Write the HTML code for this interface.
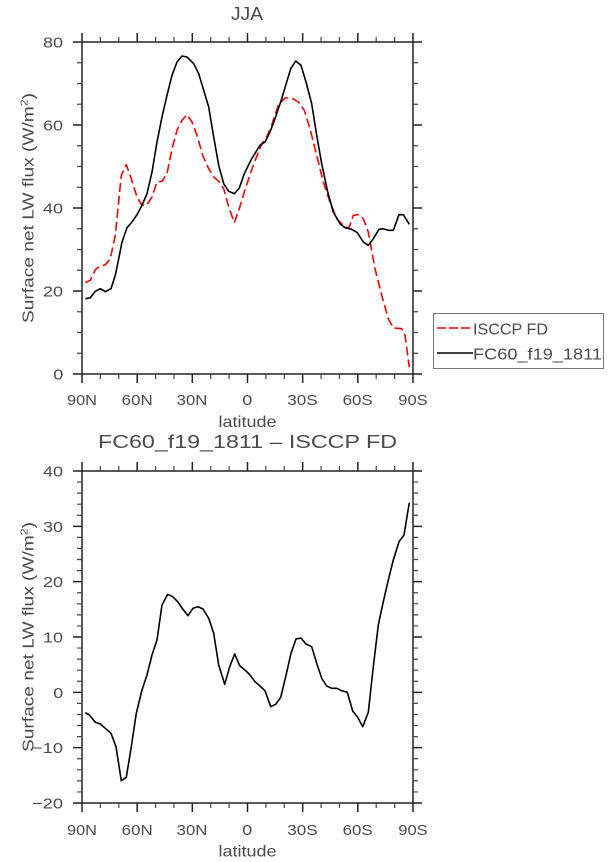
<!DOCTYPE html>
<html>
<head>
<meta charset="utf-8">
<style>
  html, body { margin: 0; padding: 0; background: #ffffff; }
  svg { display: block; }
  text { font-family: "Liberation Sans", "DejaVu Sans", sans-serif; fill: #4a4a4a; }
</style>
</head>
<body>
<svg width="609" height="862" viewBox="0 0 609 862" xmlns="http://www.w3.org/2000/svg">
  <rect x="0" y="0" width="609" height="862" fill="#ffffff"/>

  <!-- ================= TOP PLOT ================= -->
  <text x="231" y="20" font-size="18" textLength="32" lengthAdjust="spacingAndGlyphs">JJA</text>

  <!-- frame -->
  <rect x="82" y="42" width="331" height="332" fill="none" stroke="#222" stroke-width="1.5"/>

  <!-- ticks -->
  <path fill="none" stroke="#222" stroke-width="1.5" d="
    M82 42 v-9 M137.17 42 v-9 M192.33 42 v-9 M247.5 42 v-9 M302.67 42 v-9 M357.83 42 v-9 M413 42 v-9
    M82 374 v9 M137.17 374 v9 M192.33 374 v9 M247.5 374 v9 M302.67 374 v9 M357.83 374 v9 M413 374 v9
    M82 42 h-9 M82 125 h-9 M82 208 h-9 M82 291 h-9 M82 374 h-9
    M413 42 h9 M413 125 h9 M413 208 h9 M413 291 h9 M413 374 h9"/>
  <path fill="none" stroke="#444" stroke-width="1.2" d="
    M100.39 42 v-5 M118.78 42 v-5 M155.56 42 v-5 M173.94 42 v-5 M210.72 42 v-5 M229.11 42 v-5
    M265.89 42 v-5 M284.28 42 v-5 M321.06 42 v-5 M339.44 42 v-5 M376.22 42 v-5 M394.61 42 v-5
    M100.39 374 v5 M118.78 374 v5 M155.56 374 v5 M173.94 374 v5 M210.72 374 v5 M229.11 374 v5
    M265.89 374 v5 M284.28 374 v5 M321.06 374 v5 M339.44 374 v5 M376.22 374 v5 M394.61 374 v5
    M82 62.75 h-5 M82 83.5 h-5 M82 104.25 h-5 M82 145.75 h-5 M82 166.5 h-5 M82 187.25 h-5
    M82 228.75 h-5 M82 249.5 h-5 M82 270.25 h-5 M82 311.75 h-5 M82 332.5 h-5 M82 353.25 h-5
    M413 62.75 h5 M413 83.5 h5 M413 104.25 h5 M413 145.75 h5 M413 166.5 h5 M413 187.25 h5
    M413 228.75 h5 M413 249.5 h5 M413 270.25 h5 M413 311.75 h5 M413 332.5 h5 M413 353.25 h5"/>

  <!-- y tick labels -->
  <g font-size="15">
    <text x="43" y="47.5" textLength="20" lengthAdjust="spacingAndGlyphs">80</text>
    <text x="43" y="130.5" textLength="20" lengthAdjust="spacingAndGlyphs">60</text>
    <text x="43" y="213.5" textLength="20" lengthAdjust="spacingAndGlyphs">40</text>
    <text x="43" y="296.5" textLength="20" lengthAdjust="spacingAndGlyphs">20</text>
    <text x="53.3" y="379.5" textLength="10" lengthAdjust="spacingAndGlyphs">0</text>
  </g>
  <!-- x tick labels -->
  <g font-size="15">
    <text x="67" y="405" textLength="30" lengthAdjust="spacingAndGlyphs">90N</text>
    <text x="121.7" y="405" textLength="31" lengthAdjust="spacingAndGlyphs">60N</text>
    <text x="176.7" y="405" textLength="30.6" lengthAdjust="spacingAndGlyphs">30N</text>
    <text x="242.3" y="405" textLength="10" lengthAdjust="spacingAndGlyphs">0</text>
    <text x="287.3" y="405" textLength="30.4" lengthAdjust="spacingAndGlyphs">30S</text>
    <text x="342.7" y="405" textLength="30" lengthAdjust="spacingAndGlyphs">60S</text>
    <text x="398.3" y="405" textLength="29.4" lengthAdjust="spacingAndGlyphs">90S</text>
  </g>
  <text x="218.5" y="427" font-size="16" textLength="58" lengthAdjust="spacingAndGlyphs">latitude</text>

  <!-- y axis label -->
  <text transform="translate(33.5,323) rotate(-90)" x="0" y="0" font-size="15.5" textLength="230" lengthAdjust="spacingAndGlyphs">Surface net LW flux (W/m<tspan dy="-6" font-size="10">2</tspan><tspan dy="6">)</tspan></text>

  <!-- series -->
  <path fill="none" stroke="#ff0000" stroke-width="1.6" stroke-dasharray="9,4" stroke-linejoin="round" d="M85.3,282.7 L90.3,280.3 L95.3,269.7 L100.3,266 L105.3,264.7 L110.3,258.7 L115.3,235.3 L121.3,175.3 L126.3,164.7 L131.3,178.7 L137,197 L142,205.3 L147,204.7 L152,197 L157,182 L162,181.3 L167,173.7 L172,148.7 L177,130.3 L182,120.3 L187,114.7 L192,122 L197,135.3 L202.7,155.3 L208.7,168.7 L213.7,177 L218.7,181.3 L223.7,188.7 L228.7,207 L234.3,222.7 L239.3,208.7 L245.3,188.7 L253.3,165.3 L261.7,143.7 L266.7,137 L271.7,125.3 L278.3,105.3 L285,98 L291.7,98 L298.3,102 L304.3,110.3 L310,128.7 L316.7,155.3 L323.3,182 L330,202 L336.7,218.7 L345,227 L349,227.7 L353.3,215.3 L358.3,214.7 L363.3,218.7 L368.3,232 L375,268.7 L381.7,295.3 L388.3,318.7 L393.3,328 L401.7,328.7 L405,335.3 L409.3,367"/>
  <path fill="none" stroke="#000" stroke-width="1.6" stroke-linejoin="round" d="M85.3,298.7 L90.3,297.7 L95.3,291.3 L100.3,288.7 L105.3,291.7 L111,288.7 L115.3,275.3 L118.7,258.7 L122,242 L127,227.7 L132,222 L137,214.7 L142,205.3 L147,193.7 L152,172 L157,142 L162,117 L167,95.3 L172,75.3 L177,62 L182,56 L187,57 L193.7,63.7 L198.7,73.7 L203.7,90.3 L208.7,107 L213.7,137 L218.7,165.3 L223.7,183.7 L228.7,191.3 L234.3,193.7 L239.3,188 L244.3,173.7 L251.7,158.7 L260,145.3 L265,142 L270,132 L275,118.7 L281.7,98.7 L290.7,68.7 L295.7,61 L301,65.3 L306,82 L311.7,103.7 L316.7,135.3 L321.7,163.7 L327.7,192 L333.3,212 L340,223.7 L345,227.7 L351.7,229.3 L357.3,232.7 L363.3,242 L368.3,245.3 L373.3,238.7 L379,229.3 L383.3,228.7 L388.3,230.3 L393.3,230.3 L399,214.7 L403.3,214.7 L409.3,224.3"/>

  <!-- legend -->
  <rect x="433.5" y="313.5" width="170" height="55" fill="#ffffff" stroke="#777" stroke-width="1"/>
  <line x1="437" y1="328" x2="473" y2="328" stroke="#ff0000" stroke-width="1.6" stroke-dasharray="9,3"/>
  <line x1="437" y1="353" x2="473" y2="353" stroke="#000" stroke-width="1.6"/>
  <text x="473" y="334.3" font-size="16" textLength="75" lengthAdjust="spacingAndGlyphs">ISCCP FD</text>
  <text x="473" y="359.3" font-size="16" textLength="129" lengthAdjust="spacingAndGlyphs">FC60_f19_1811</text>

  <!-- ================= BOTTOM PLOT ================= -->
  <text x="98" y="448" font-size="18" textLength="299" lengthAdjust="spacingAndGlyphs">FC60_f19_1811 – ISCCP FD</text>

  <rect x="82" y="471" width="331" height="332" fill="none" stroke="#222" stroke-width="1.5"/>

  <path fill="none" stroke="#222" stroke-width="1.5" d="
    M82 471 v-9 M137.17 471 v-9 M192.33 471 v-9 M247.5 471 v-9 M302.67 471 v-9 M357.83 471 v-9 M413 471 v-9
    M82 803 v9 M137.17 803 v9 M192.33 803 v9 M247.5 803 v9 M302.67 803 v9 M357.83 803 v9 M413 803 v9
    M82 471 h-9 M82 526.33 h-9 M82 581.67 h-9 M82 637 h-9 M82 692.33 h-9 M82 747.67 h-9 M82 803 h-9
    M413 471 h9 M413 526.33 h9 M413 581.67 h9 M413 637 h9 M413 692.33 h9 M413 747.67 h9 M413 803 h9"/>
  <path fill="none" stroke="#444" stroke-width="1.2" d="
    M100.39 471 v-5 M118.78 471 v-5 M155.56 471 v-5 M173.94 471 v-5 M210.72 471 v-5 M229.11 471 v-5
    M265.89 471 v-5 M284.28 471 v-5 M321.06 471 v-5 M339.44 471 v-5 M376.22 471 v-5 M394.61 471 v-5
    M100.39 803 v5 M118.78 803 v5 M155.56 803 v5 M173.94 803 v5 M210.72 803 v5 M229.11 803 v5
    M265.89 803 v5 M284.28 803 v5 M321.06 803 v5 M339.44 803 v5 M376.22 803 v5 M394.61 803 v5
    M82 482.07 h-5 M82 493.13 h-5 M82 504.2 h-5 M82 515.27 h-5
    M82 537.4 h-5 M82 548.47 h-5 M82 559.53 h-5 M82 570.6 h-5
    M82 592.73 h-5 M82 603.8 h-5 M82 614.87 h-5 M82 625.93 h-5
    M82 648.07 h-5 M82 659.13 h-5 M82 670.2 h-5 M82 681.27 h-5
    M82 703.4 h-5 M82 714.47 h-5 M82 725.53 h-5 M82 736.6 h-5
    M82 758.73 h-5 M82 769.8 h-5 M82 780.87 h-5 M82 791.93 h-5
    M413 482.07 h5 M413 493.13 h5 M413 504.2 h5 M413 515.27 h5
    M413 537.4 h5 M413 548.47 h5 M413 559.53 h5 M413 570.6 h5
    M413 592.73 h5 M413 603.8 h5 M413 614.87 h5 M413 625.93 h5
    M413 648.07 h5 M413 659.13 h5 M413 670.2 h5 M413 681.27 h5
    M413 703.4 h5 M413 714.47 h5 M413 725.53 h5 M413 736.6 h5
    M413 758.73 h5 M413 769.8 h5 M413 780.87 h5 M413 791.93 h5"/>

  <g font-size="15">
    <text x="43" y="476.5" textLength="20" lengthAdjust="spacingAndGlyphs">40</text>
    <text x="43" y="531.8" textLength="20" lengthAdjust="spacingAndGlyphs">30</text>
    <text x="43" y="587.2" textLength="20" lengthAdjust="spacingAndGlyphs">20</text>
    <text x="43" y="642.5" textLength="20" lengthAdjust="spacingAndGlyphs">10</text>
    <text x="53.3" y="697.8" textLength="10" lengthAdjust="spacingAndGlyphs">0</text>
    <text x="32" y="753.2" textLength="31" lengthAdjust="spacingAndGlyphs">−10</text>
    <text x="32" y="808.5" textLength="31" lengthAdjust="spacingAndGlyphs">−20</text>
  </g>
  <g font-size="15">
    <text x="67" y="835" textLength="30" lengthAdjust="spacingAndGlyphs">90N</text>
    <text x="121.7" y="835" textLength="31" lengthAdjust="spacingAndGlyphs">60N</text>
    <text x="176.7" y="835" textLength="30.6" lengthAdjust="spacingAndGlyphs">30N</text>
    <text x="242.3" y="835" textLength="10" lengthAdjust="spacingAndGlyphs">0</text>
    <text x="287.3" y="835" textLength="30.4" lengthAdjust="spacingAndGlyphs">30S</text>
    <text x="342.7" y="835" textLength="30" lengthAdjust="spacingAndGlyphs">60S</text>
    <text x="398.3" y="835" textLength="29.4" lengthAdjust="spacingAndGlyphs">90S</text>
  </g>
  <text x="218.5" y="856.5" font-size="16" textLength="58" lengthAdjust="spacingAndGlyphs">latitude</text>

  <text transform="translate(33.5,752) rotate(-90)" x="0" y="0" font-size="15.5" textLength="230" lengthAdjust="spacingAndGlyphs">Surface net LW flux (W/m<tspan dy="-6" font-size="10">2</tspan><tspan dy="6">)</tspan></text>

  <path fill="none" stroke="#000" stroke-width="1.6" stroke-linejoin="round" d="M85.3,712.7 L89.3,715 L95.3,722.3 L100.3,724 L105.3,728.3 L111,733.3 L116,746.7 L121.3,780.7 L126.3,777.3 L131.3,746.7 L136.3,713.3 L142,690 L147,675 L152,655 L157,640 L162,605 L167.7,594.3 L172.7,596.7 L177.7,601.7 L182.7,609 L188,615.7 L193,608.3 L198,606.7 L203,609 L208.7,618.3 L213.7,633.3 L218.7,665 L224.7,684.3 L229.7,666.7 L234.7,654 L239.7,665.7 L245,670 L250,675 L255,681.7 L260,686 L265,690.7 L270.7,706.7 L275.7,704.3 L280.7,697.3 L285.7,676.7 L291,653.3 L296,639 L301,638 L306,644 L311.7,646.7 L316.7,663.3 L321.7,678.3 L326.7,686 L331.7,688.3 L336.7,688.3 L341.7,690.7 L347.3,692.3 L352.7,711 L357.7,717.3 L362.7,726.7 L368.3,712.3 L373.3,666.7 L378.3,625 L383.3,601.7 L388.3,580 L393.3,560 L399,541.7 L404,535 L409.3,502.7"/>
</svg>
</body>
</html>
